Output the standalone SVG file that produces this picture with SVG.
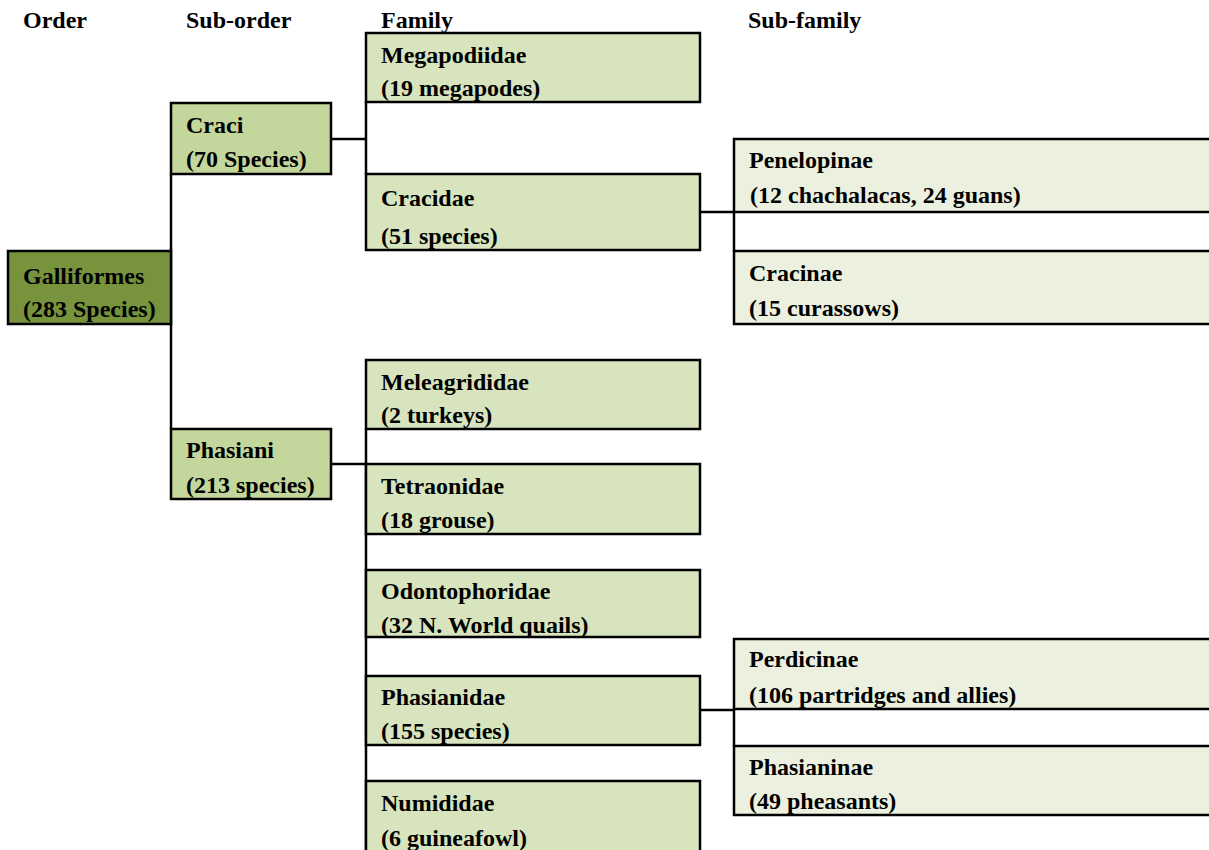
<svg xmlns="http://www.w3.org/2000/svg" width="1209" height="850" viewBox="0 0 1209 850">
<style>
text{font-family:"Liberation Serif","Times New Roman",serif;font-weight:bold;font-size:24px;fill:#000}
.b{stroke:#000;stroke-width:2.5}
.o{fill:#77933C}
.s{fill:#C3D69B}
.f{fill:#D7E4BD}
.sf{fill:#EBF1DE}
.c{stroke:#000;stroke-width:2.5;fill:none}
</style>
<rect width="1209" height="850" fill="#fff"/>
<g id="headers">
<text x="23" y="28">Order</text>
<text x="186" y="28">Sub-order</text>
<text x="381" y="28">Family</text>
<text x="748" y="28">Sub-family</text>
</g>
<g id="connectors">
<path class="c" d="M171,174V429"/>
<path class="c" d="M331,139H366M366,102V174"/>
<path class="c" d="M331,464H366M366,429V850"/>
<path class="c" d="M700,212H734M734,212V251"/>
<path class="c" d="M700,710H734M734,709V746"/>
</g>
<g id="galliformes"><rect class="b o" x="8" y="251" width="163" height="73"/><text x="23" y="284">Galliformes</text><text x="23" y="317">(283 Species)</text></g>
<g id="craci"><rect class="b s" x="171" y="103" width="160" height="71"/><text x="186" y="133">Craci</text><text x="186" y="167">(70 Species)</text></g>
<g id="phasiani"><rect class="b s" x="171" y="429" width="160" height="70"/><text x="186" y="458">Phasiani</text><text x="186" y="493">(213 species)</text></g>
<g id="megapodiidae"><rect class="b f" x="366" y="33" width="334" height="69"/><text x="381" y="63">Megapodiidae</text><text x="381" y="96">(19 megapodes)</text></g>
<g id="cracidae"><rect class="b f" x="366" y="174" width="334" height="76"/><text x="381" y="206">Cracidae</text><text x="381" y="244">(51 species)</text></g>
<g id="meleagrididae"><rect class="b f" x="366" y="360" width="334" height="69"/><text x="381" y="390">Meleagrididae</text><text x="381" y="423">(2 turkeys)</text></g>
<g id="tetraonidae"><rect class="b f" x="366" y="464" width="334" height="70"/><text x="381" y="494">Tetraonidae</text><text x="381" y="528">(18 grouse)</text></g>
<g id="odontophoridae"><rect class="b f" x="366" y="570" width="334" height="67"/><text x="381" y="599">Odontophoridae</text><text x="381" y="633">(32 N. World quails)</text></g>
<g id="phasianidae"><rect class="b f" x="366" y="676" width="334" height="69"/><text x="381" y="705">Phasianidae</text><text x="381" y="739">(155 species)</text></g>
<g id="numididae"><rect class="b f" x="366" y="781" width="334" height="90"/><text x="381" y="811">Numididae</text><text x="381" y="846">(6 guineafowl)</text></g>
<g id="penelopinae"><rect class="b sf" x="734" y="139" width="500" height="73"/><text x="749" y="168">Penelopinae</text><text x="750" y="203">(12 chachalacas, 24 guans)</text></g>
<g id="cracinae"><rect class="b sf" x="734" y="251" width="500" height="73"/><text x="749" y="281">Cracinae</text><text x="749" y="316">(15 curassows)</text></g>
<g id="perdicinae"><rect class="b sf" x="734" y="639" width="500" height="70"/><text x="749" y="667">Perdicinae</text><text x="749" y="703">(106 partridges and allies)</text></g>
<g id="phasianinae"><rect class="b sf" x="734" y="746" width="500" height="69"/><text x="749" y="775">Phasianinae</text><text x="749" y="809">(49 pheasants)</text></g>
</svg>
